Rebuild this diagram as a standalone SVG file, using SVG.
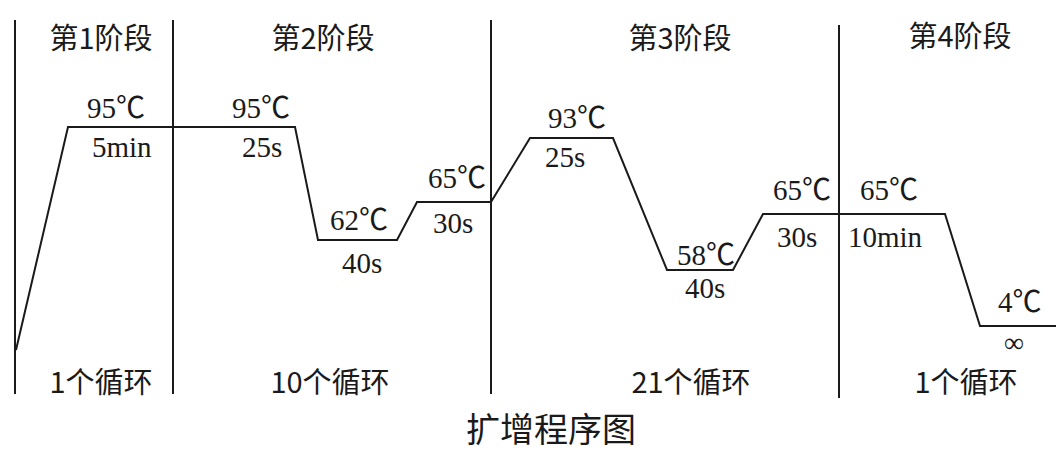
<svg xmlns="http://www.w3.org/2000/svg" width="1056" height="450" viewBox="0 0 1056 450">
<style>
.ln{stroke:#1a1a1a;stroke-width:2;fill:none}
.cn{font-family:"Noto Sans CJK SC","Noto Sans",sans-serif;font-size:29px;fill:#1a1a1a;text-anchor:middle}
.tt{font-family:"Noto Sans CJK SC",sans-serif;font-size:34px;fill:#1a1a1a;text-anchor:middle}
.v{font-family:"Liberation Serif","Noto Sans CJK SC",serif;font-size:29px;fill:#1a1a1a}
</style>
<rect width="1056" height="450" fill="#fff"/>
<g id="dividers">
<line class="ln" x1="15" y1="20" x2="15" y2="394"/>
<line class="ln" x1="173" y1="20" x2="173" y2="394"/>
<line class="ln" x1="491" y1="20" x2="491" y2="394"/>
<line class="ln" x1="839" y1="25" x2="839" y2="398"/>
</g>
<g id="profile">
<polyline class="ln" points="16,350 68,127 295,127 318,240 397,240 417,202 491,202 530,138 613,138 667,270 733,270 763,214 945,214 980,326 1056,326"/>
</g>
<g id="stage-headers">
<text class="cn" x="101" y="49">第1阶段</text>
<text class="cn" x="323" y="49">第2阶段</text>
<text class="cn" x="680" y="49">第3阶段</text>
<text class="cn" x="960" y="47">第4阶段</text>
</g>
<g id="cycle-labels">
<text class="cn" x="101" y="393">1个循环</text>
<text class="cn" x="330" y="393">10个循环</text>
<text class="cn" x="691" y="393">21个循环</text>
<text class="cn" x="966" y="393">1个循环</text>
</g>
<g id="step-labels">
<text class="v" x="87" y="118">95℃</text>
<text class="v" x="92" y="157">5min</text>
<text class="v" x="232" y="118">95℃</text>
<text class="v" x="242" y="157">25s</text>
<text class="v" x="330" y="230">62℃</text>
<text class="v" x="342" y="273">40s</text>
<text class="v" x="428" y="188">65℃</text>
<text class="v" x="433" y="233">30s</text>
<text class="v" x="548" y="128">93℃</text>
<text class="v" x="545" y="167">25s</text>
<text class="v" x="677" y="265">58℃</text>
<text class="v" x="685" y="298">40s</text>
<text class="v" x="773" y="200">65℃</text>
<text class="v" x="777" y="247">30s</text>
<text class="v" x="860" y="200">65℃</text>
<text class="v" x="848" y="247">10min</text>
<text class="v" x="998" y="312">4℃</text>
<text class="v" x="1004" y="352" style="font-size:28px">∞</text>
</g>
<text class="tt" x="551" y="442">扩增程序图</text>
</svg>
